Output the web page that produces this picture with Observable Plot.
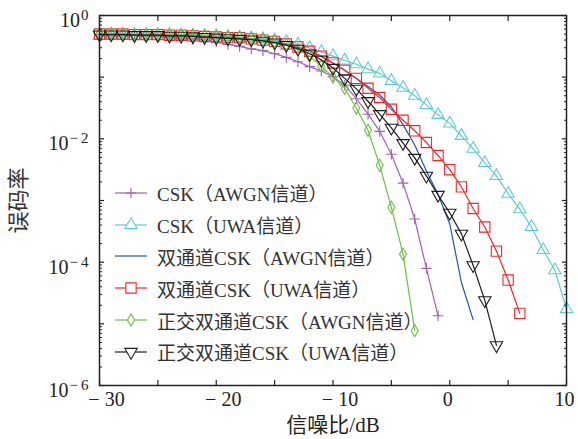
<!DOCTYPE html>
<html><head><meta charset="utf-8">
<script src="https://cdn.jsdelivr.net/npm/d3@7"></script>
<script src="https://cdn.jsdelivr.net/npm/@observablehq/plot@0.6"></script>
<style>
html,body{margin:0;padding:0;background:#fff;}
#chart{position:relative;width:578px;height:439px;}
#legend{position:absolute;left:113px;top:177px;font-family:'Liberation Serif','Noto Sans CJK SC',serif;font-size:19px;color:#333;}
.row{display:flex;align-items:center;height:31.8px;white-space:nowrap;}
.row svg{width:36px;height:20px;margin-right:8px;overflow:visible;}
</style></head><body><div id="chart"><div id="legend"></div></div>
<script>
// SNR (dB)
const snr = [-30,-29,-28,-27,-26,-25,-24,-23,-22,-21,-20,-19,-18,-17,-16,-15,-14,-13,-12,-11,-10,-9,-8,-7,-6,-5,-4,-3,-2,-1,0,1,2,3,4,5,6,7,8,9,10];
// BER values, each series starts at -30 dB
const cskAwgn = [0.490,0.490,0.479,0.479,0.468,0.457,0.447,0.427,0.417,0.398,0.372,0.339,0.316,0.288,0.269,0.240,0.209,0.178,0.148,0.126,0.102,0.0741,0.0447,0.0251,0.0132,0.00562,0.00191,5.01e-4,7.94e-5,1.35e-5];
const cskUwa = [0.468,0.468,0.468,0.468,0.468,0.468,0.468,0.468,0.457,0.457,0.457,0.447,0.437,0.427,0.417,0.398,0.372,0.339,0.295,0.257,0.219,0.186,0.162,0.135,0.115,0.0871,0.0676,0.0501,0.0355,0.0245,0.0178,0.0112,0.00692,0.00407,0.00251,0.00129,7.24e-4,3.72e-4,1.58e-4,7.41e-5,1.74e-5];
const dualAwgn = [0.490,0.490,0.490,0.479,0.479,0.479,0.468,0.468,0.457,0.447,0.437,0.427,0.417,0.407,0.389,0.372,0.339,0.302,0.263,0.214,0.170,0.129,0.0955,0.0708,0.0513,0.0331,0.0170,0.00794,0.00302,0.00126,4.17e-4,4.68e-5,1.17e-5];
const dualUwa = [0.501,0.501,0.501,0.490,0.490,0.490,0.479,0.479,0.468,0.457,0.447,0.437,0.437,0.417,0.398,0.380,0.347,0.309,0.263,0.219,0.170,0.129,0.0955,0.0661,0.0468,0.0302,0.0200,0.0135,0.00871,0.00537,0.00316,0.00166,7.41e-4,3.72e-4,1.51e-4,5.13e-5,1.48e-5];
const orthoAwgn = [0.513,0.513,0.513,0.501,0.501,0.501,0.501,0.490,0.490,0.479,0.468,0.457,0.447,0.427,0.407,0.380,0.339,0.282,0.219,0.151,0.100,0.0661,0.0316,0.0138,0.00372,7.76e-4,1.35e-4,7.76e-6];
const orthoUwa = [0.490,0.490,0.490,0.479,0.479,0.479,0.468,0.468,0.457,0.447,0.437,0.427,0.417,0.407,0.389,0.363,0.331,0.288,0.240,0.191,0.141,0.0955,0.0646,0.0407,0.0251,0.0151,0.00851,0.00490,0.00251,0.00123,6.31e-4,2.88e-4,8.91e-5,2.40e-5,4.47e-6];

const names = ["CSK（AWGN信道）","CSK（UWA信道）","双通道CSK（AWGN信道）","双通道CSK（UWA信道）","正交双通道CSK（AWGN信道）","正交双通道CSK（UWA信道）"];
const colors = ["#a060b4","#5ecad9","#2255ae","#f0282c","#6dbf45","#1c1c1c"];

const xTicksNeg = [-30,-20,-10];
const xTicksPos = [0,10];
const xTickMarks = [-30,-25,-20,-15,-10,-5,0,5,10];
const yLabelTicks = [1e-6,1e-4,1e-2,1];
const yMajorTicks = [1e-6,1e-5,1e-4,1e-3,1e-2,1e-1,1];
const yMinorTicks = [1e-6,1e-5,1e-4,1e-3,1e-2,1e-1].flatMap(d => [2,3,4,5,6,7,8,9].map(m => m*d));

const series = [
  {values: cskAwgn, symbol: "plus", r: 3.5, rotate: 0},
  {values: cskUwa, symbol: "triangle", r: 4.6, rotate: 0},
  {values: dualAwgn, symbol: null},
  {values: dualUwa, symbol: "square", r: 5.8, rotate: 0},
  {values: orthoAwgn, symbol: "diamond", r: 3.7, rotate: 0},
  {values: orthoUwa, symbol: "triangle", r: 4.6, rotate: 180}
].map((s, k) => ({...s, name: names[k], color: colors[k]}));

const marks = [];
for (const s of series) {
  const data = s.values.map((v, i) => ({snr: snr[i], ber: v}));
  marks.push(Plot.line(data, {x: "snr", y: "ber", stroke: s.color, strokeWidth: 1.2}));
  if (s.symbol) marks.push(Plot.dot(data, {x: "snr", y: "ber", symbol: s.symbol, r: s.r, rotate: s.rotate, stroke: s.color, strokeWidth: 1.1, fill: "none"}));
}

const fmtX = d => d < 0 ? "−\u2005" + (-d) : String(d);
const fmtY = d => { const e = Math.round(Math.log10(d)); return e < 0 ? "−\u2009" + (-e) : String(e); };

const chart = Plot.plot({
  width: 578, height: 439,
  marginLeft: 99, marginRight: 12, marginTop: 15, marginBottom: 54,
  x: {domain: [-30, 10]},
  y: {type: "log", domain: [1e-6, 1]},
  style: {fontFamily: "'Liberation Serif','Noto Sans CJK SC',serif", color: "#222", background: "white"},
  marks: [
    ...marks,
    Plot.axisX({anchor: "bottom", ticks: xTickMarks, tickSize: -5, fill: "none", label: null, strokeWidth: 1.2}),
    Plot.axisX({anchor: "top", ticks: xTickMarks, tickSize: -5, fill: "none", label: null, strokeWidth: 1.2}),
    Plot.axisX({anchor: "bottom", ticks: xTicksNeg, tickSize: 0, tickPadding: 6, tickFormat: fmtX, label: null, fontSize: 20, dx: 7, fill: "#222"}),
    Plot.axisX({anchor: "bottom", ticks: xTicksPos, tickSize: 0, tickPadding: 6, tickFormat: fmtX, label: null, fontSize: 20, dx: -2, fill: "#222"}),
    Plot.axisY({anchor: "left", ticks: yMajorTicks, tickSize: -5, fill: "none", label: null, strokeWidth: 1.2}),
    Plot.axisY({anchor: "left", ticks: yMinorTicks, tickSize: -3, fill: "none", label: null}),
    Plot.axisY({anchor: "right", ticks: yMajorTicks, tickSize: -5, fill: "none", label: null, strokeWidth: 1.2}),
    Plot.axisY({anchor: "right", ticks: yMinorTicks, tickSize: -3, fill: "none", label: null}),
    Plot.axisY({anchor: "left", ticks: yLabelTicks, tickSize: 0, tickPadding: 11, tickFormat: fmtY, label: null, fontSize: 20, dy: 5, fill: "#222"}),
    Plot.text(["信噪比/dB"], {frameAnchor: "bottom", lineAnchor: "middle", dy: 40, fontSize: 21, fill: "#222"}),
    Plot.text(["误码率"], {frameAnchor: "left", textAnchor: "middle", lineAnchor: "middle", dx: -81, rotate: -90, fontSize: 22, fill: "#333"}),
    Plot.frame({stroke: "#222", strokeWidth: 1.5})
  ]
});

// superscript exponents on y tick labels
const ns = "http://www.w3.org/2000/svg";
chart.querySelectorAll('g[aria-label="y-axis tick label"] text').forEach(t => {
  const e = t.textContent;
  t.textContent = "";
  const a = document.createElementNS(ns, "tspan"); a.textContent = "10"; t.appendChild(a);
  const b = document.createElementNS(ns, "tspan");
  b.setAttribute("dy", "-0.45em"); b.setAttribute("dx", "1"); b.setAttribute("font-size", "15"); b.textContent = e; t.appendChild(b);
});
document.getElementById("chart").insertBefore(chart, document.getElementById("legend"));

// legend
const symMap = {plus: d3.symbolPlus, triangle: d3.symbolTriangle, square: d3.symbolSquare, diamond: d3.symbolDiamond};
const legend = d3.select("#legend");
for (const s of series) {
  const row = legend.append("div").attr("class", "row");
  const sv = row.append("svg").attr("viewBox", "0 0 36 20");
  sv.append("line").attr("x1", 2).attr("x2", 34).attr("y1", 10).attr("y2", 10).attr("stroke", s.color).attr("stroke-width", 1.2);
  if (s.symbol) {
    sv.append("path").attr("d", d3.symbol(symMap[s.symbol], Math.PI * s.r * s.r)())
      .attr("transform", `translate(18,10) rotate(${s.rotate})`)
      .attr("fill", "white").attr("stroke", s.color).attr("stroke-width", 1.1);
  }
  row.append("span").text(s.name);
}
</script></body></html>
